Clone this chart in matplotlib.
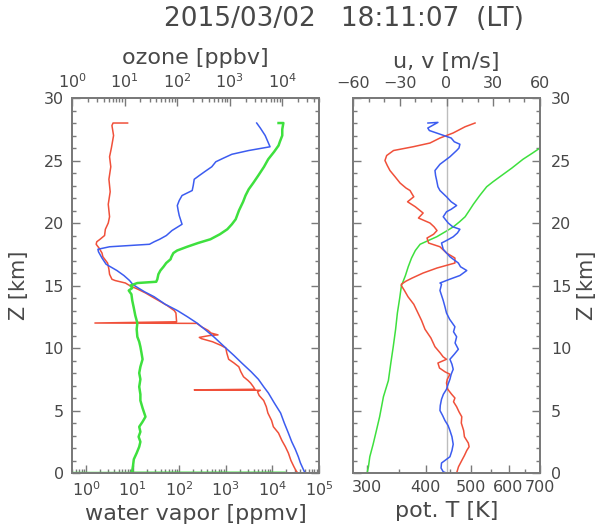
import matplotlib
matplotlib.use("Agg")
import matplotlib.pyplot as plt
import matplotlib.ticker as mticker
import numpy as np

plt.rc("font", family="DejaVu Sans", size=11.5)
TXT = "#484848"
EDGE = "#7a7a7a"

# ---- left panel: water vapor (bottom axis) and ozone (top axis) ----
wv_red_z = [28.0, 28.0, 27.8, 27.0, 26.0, 25.3, 24.5, 23.5, 22.5, 21.5, 20.5, 20.0,
            19.5, 19.0, 18.7, 18.5, 18.3, 18.0, 17.6, 17.3, 16.8, 16.3, 15.9, 15.5,
            15.4, 15.2, 15.0, 14.7, 14.4, 14.1, 13.8, 13.4, 13.0, 12.8, 12.3, 12.1,
            12.0, 11.97, 11.7, 11.4, 11.2, 11.05, 11.0, 10.85, 10.75, 10.5, 10.2, 10.0,
            9.6, 9.1, 8.8, 8.5, 8.1, 7.7, 7.4, 7.2, 6.9, 6.7, 6.65, 6.62, 6.5,
            6.2, 5.8, 5.3, 4.8, 4.2, 3.7, 3.2, 2.6, 2.1, 1.6, 1.0, 0.5, 0.2, 0.0,
            0.0, 0.0]
wv_red = [7.8, 3.8, 3.6, 3.9, 3.5, 3.2, 3.4, 3.1, 3.3, 3.0, 3.2, 3.0,
          2.6, 2.5, 2.0, 1.7, 1.65, 1.9, 2.2, 2.3, 2.9, 3.1, 3.2, 3.6,
          4.2, 7.0, 8.6, 13, 19, 26, 36, 55, 78, 85, 87, 88,
          1.55, 240, 300, 420, 480, 680, 450, 270, 300, 520, 800, 1000,
          1050, 1150, 1500, 1900, 2100, 2400, 3000, 3400, 3900, 4200, 210, 5500, 4800,
          5200, 6500, 7400, 8000, 9600, 1.05e4, 1.35e4, 1.6e4, 1.9e4, 2.2e4, 2.5e4, 2.9e4, 3.2e4, 3.5e4,
          2.4e4, 1.2e5]

wv_blue_z = [28.0, 27.6, 27.0, 26.5, 26.1, 25.8, 25.5, 25.2, 24.9, 24.5, 24.1, 23.8,
             23.5, 23.0, 22.6, 22.2, 21.8, 21.4, 21.0, 20.6, 19.9, 19.4, 19.0, 18.7,
             18.5, 18.3, 18.1, 17.9, 17.7, 17.2, 16.7, 16.2, 15.8, 15.4, 15.1, 14.9,
             14.5, 14.1, 13.5, 13.0, 12.5, 12.0, 11.4, 10.9, 10.0, 9.4, 8.8, 8.1,
             7.5, 6.9, 6.4, 5.6, 4.8, 4.0, 3.2, 2.5, 1.9, 1.3, 0.8, 0.3, 0.0]
wv_blue = [4600, 5500, 7000, 8000, 8900, 3100, 1350, 900, 610, 500, 350, 270,
           210, 200, 190, 115, 100, 91, 95, 100, 115, 70, 53, 38,
           29, 23, 3.2, 1.8, 1.85, 2.2, 2.7, 4.6, 6.5, 8.6, 10, 12,
           18, 29, 50, 91, 150, 240, 380, 550, 1000, 1500, 2200, 3500,
           5000, 6500, 8200, 1.1e4, 1.5e4, 1.8e4, 2.2e4, 2.6e4, 3.1e4, 3.6e4, 4e4, 4.6e4, 5e4]

o3_z = [0.0, 0.0, 0.0, 0.2, 0.6, 1.1, 1.6, 2.1, 2.5, 2.9, 3.3, 3.7, 4.1, 4.5,
        5.2, 5.8, 6.3, 6.9, 7.5, 8.0, 8.5, 9.1, 9.6, 10.1, 10.5, 10.9, 11.5,
        12.0, 12.6, 13.2, 13.8, 14.3, 14.6, 14.8, 15.0, 15.2, 15.3, 15.5, 15.9,
        16.2, 16.5, 16.8, 17.1, 17.3, 17.6, 17.8, 18.1, 18.4, 18.7, 19.1, 19.5,
        19.9, 20.3, 21.0, 21.7, 22.2, 22.7, 23.2, 23.8, 24.5, 25.1, 25.7, 26.2,
        26.5, 27.0, 27.5, 28.0, 28.0]
o3 = [0.5, 1.15e4, 13.5, 14, 14.5, 15, 17, 19, 20, 18.5, 20, 19, 22, 25,
      22, 20, 20, 19, 20, 19, 20, 22, 21, 20, 19, 17.5, 17,
      17.5, 16, 15, 14, 13.5, 12, 14, 13, 17.5, 40, 42, 44,
      48, 55, 62, 75, 78, 85, 100, 155, 250, 430, 650, 900,
      1100, 1300, 1500, 1800, 2000, 2300, 2800, 3500, 4500, 5400, 7000, 8500,
      9000, 1.0e4, 1.0e4, 1.05e4, 8500]

# ---- right panel: potential temperature (bottom) and winds (top) ----
th_z = [0.0, 0.5, 1.3, 2.3, 3.4, 4.5, 5.3, 6.1, 7.4, 8.8, 10.1, 11.5, 12.8, 14.0,
        15.0, 15.1, 15.8, 16.5, 17.2, 17.8, 18.3, 18.6, 18.9, 19.3, 19.7, 20.1,
        20.5, 21.0, 21.5, 22.2, 22.9, 23.3, 23.7, 24.4, 25.1, 25.6, 26.0, 26.5,
        27.2, 28.0]
theta = [300, 302, 304, 309, 314, 319, 322, 325, 333, 337, 341, 345, 348, 352,
         355, 356, 362, 367, 373, 380, 389, 405, 422, 440, 458, 472,
         485, 495, 505, 521, 539, 556, 575, 610, 644, 675, 700, 730,
         770, 810]

u_z = [28.0, 27.7, 27.2, 26.8, 26.4, 26.1, 25.8, 25.4, 25.0, 24.6, 24.2, 23.7,
       23.2, 22.8, 22.6, 22.3, 22.1, 21.7, 21.3, 20.8, 20.4, 20.0, 19.7, 19.4,
       19.1, 18.8, 18.4, 18.1, 17.6, 17.2, 16.8, 16.4, 16.0, 15.6, 15.35, 15.1,
       15.0, 14.6, 14.1, 13.5, 12.8, 12.2, 11.5, 10.8, 10.1, 9.6, 9.3, 9.1,
       8.8, 8.4, 8.1, 7.9, 7.5, 7.2, 6.7, 6.3, 6.0, 5.7, 5.3, 4.9, 4.5, 4.0,
       3.4, 2.9, 2.4, 2.1, 1.8, 1.4, 1.0, 0.5, 0.0]
u_wind = [18.3, 11.9, 4.2, -4.2, -10.6, -21.5, -34, -38.4, -39.5, -38, -36.3, -33,
          -29.8, -26, -23.4, -22, -21, -25, -20, -15, -18, -10.6, -8, -6.1,
          -8.3, -12.5, -11.5, -4.2, 0, 5.4, 5.4, -6.1, -15, -22, -26, -29,
          -29, -27, -24.7, -21, -18.3, -16, -13.8, -10, -7.4, -4, -2.2, 0,
          -5.5, -4.5, -1, 2.2, 0.5, 0, 0.8, 3.3, 5.4, 4.5, 6.5, 8, 9.8, 9.5,
          11.0, 11.5, 14.0, 14.5, 13, 11.5, 9.8, 7.7, 6.5]

v_z = [28.0, 28.05, 27.6, 27.4, 27.1, 26.8, 26.5, 26.3, 26.0, 25.8, 25.3, 24.7,
       24.2, 23.8, 23.4, 22.9, 22.6, 22.1, 21.7, 21.4, 21.1, 20.9, 20.5, 20.0,
       19.7, 19.5, 19.2, 18.9, 18.6, 18.4, 17.9, 17.3, 16.8, 16.5, 16.2, 15.8,
       15.5, 15.2, 15.1, 14.6, 13.8, 13.3, 12.8, 12.3, 11.7, 11.3, 10.9, 10.4,
       9.9, 9.5, 9.1, 8.7, 8.3, 7.9, 7.5, 7.1, 6.7, 6.3, 5.9, 5.4, 5.0, 4.6,
       4.2, 3.8, 3.4, 2.9, 2.3, 1.8, 1.3, 0.8, 0.4, 0.1, 0.0]
v_wind = [-11.9, -5.5, -12, -11, -4, 3, 5, 8.6, 8, 6.5, 2.2, -4.2,
          -7.4, -7, -6.3, -5.5, -4.2, 0, 3, 6.5, 3, 0, -2.1, 1.1,
          4, 8.6, 7, 4.3, 0, -3.2, -2.1, 2.2, 7.6, 9, 13, 8.6,
          2, -4.2, -3.2, -4.2, -2.1, -1, 0, 2, 5.4, 4.5, 6.5, 5.5,
          7.6, 5, 2.2, 3.5, 4.3, 3, 2.2, 1, 0, -2, -3.2, -4, -4.2, -2.5,
          -1, 1, 2.2, 3.5, 4.3, 3.5, 2.2, -3.2, -3.5, -2.1, 0]

RED = "#f0503a"
BLUE = "#3c5cf0"
GREEN = "#3ee03e"


def style_axis(ax, ylabels_left=True):
    for s in ax.spines.values():
        s.set_color(EDGE)
        s.set_linewidth(1.4)
    ax.tick_params(which="both", direction="in", colors=EDGE, labelcolor=TXT,
                   top=False, left=True, right=True, width=1.0)
    ax.tick_params(which="major", length=6)
    ax.tick_params(which="minor", length=3)
    ax.set_ylim(0, 30)
    ax.yaxis.set_major_locator(mticker.MultipleLocator(5))
    ax.yaxis.set_minor_locator(mticker.MultipleLocator(1))
    if ylabels_left:
        ax.tick_params(axis="y", labelleft=True, labelright=False, pad=6)
        ax.set_ylabel("Z [km]", fontsize=15, color=TXT, labelpad=10)
    else:
        ax.tick_params(axis="y", labelleft=False, labelright=True, pad=8)
        ax.yaxis.set_label_position("right")
        ax.set_ylabel("Z [km]", fontsize=15, color=TXT, labelpad=4)


def style_top(ax):
    for s in ax.spines.values():
        s.set_color(EDGE)
        s.set_linewidth(1.4)
    ax.tick_params(which="both", direction="in", colors=EDGE, labelcolor=TXT,
                   width=1.0, pad=5)
    ax.tick_params(which="major", length=6)
    ax.tick_params(which="minor", length=3)


fig = plt.figure(figsize=(6.02, 5.31), dpi=100)

# left panel
ax1 = fig.add_axes([0.1196, 0.1092, 0.4103, 0.7062])
ax1.set_xscale("log")
ax1.plot(wv_red, wv_red_z, color=RED, lw=1.1)
ax1.plot(wv_blue, wv_blue_z, color=BLUE, lw=1.1)
ax1.set_xlim(0.5, 1.0001e5)
ax1.xaxis.set_major_locator(mticker.LogLocator(base=10, numticks=10))
ax1.xaxis.set_minor_locator(mticker.LogLocator(base=10, subs=np.arange(2, 10), numticks=20))
ax1.xaxis.set_minor_formatter(mticker.NullFormatter())
style_axis(ax1, ylabels_left=True)
ax1.tick_params(axis="x", pad=5)
ax1.set_xlabel("water vapor [ppmv]", fontsize=16, color=TXT, labelpad=4)

ax1t = ax1.twiny()
ax1t.set_xscale("log")
ax1t.plot(o3, o3_z, color=GREEN, lw=1.8)
ax1t.set_xlim(1, 5e4)
ax1t.xaxis.set_major_locator(mticker.LogLocator(base=10, numticks=10))
ax1t.xaxis.set_minor_locator(mticker.LogLocator(base=10, subs=np.arange(2, 10), numticks=20))
ax1t.xaxis.set_minor_formatter(mticker.NullFormatter())
style_top(ax1t)
ax1t.set_xlabel("ozone [ppbv]", fontsize=16, color=TXT, labelpad=6)

# right panel
ax2 = fig.add_axes([0.5864, 0.1092, 0.3106, 0.7062])
ax2.set_xscale("log")
ax2.plot(theta, th_z, color=GREEN, lw=1.1)
ax2.set_xlim(280, 700)
ax2.xaxis.set_major_locator(mticker.FixedLocator([300, 400, 500, 600, 700]))
ax2.xaxis.set_major_formatter(mticker.FixedFormatter(["300", "400", "500", "600", "700"]))
ax2.xaxis.set_minor_locator(mticker.FixedLocator([350, 450, 550, 650]))
ax2.xaxis.set_minor_formatter(mticker.NullFormatter())
style_axis(ax2, ylabels_left=False)
ax2.tick_params(axis="x", pad=5)
ax2.set_xlabel("pot. T [K]", fontsize=16, color=TXT, labelpad=4)

ax2t = ax2.twiny()
ax2t.axvline(0, color="#bdbdbd", lw=1.0, zorder=0)
ax2t.plot(u_wind, u_z, color=RED, lw=1.1)
ax2t.plot(v_wind, v_z, color=BLUE, lw=1.1)
ax2t.set_xlim(-60, 60)
ax2t.xaxis.set_major_locator(mticker.MultipleLocator(30))
ax2t.xaxis.set_minor_locator(mticker.MultipleLocator(10))
style_top(ax2t)
ax2t.set_xlabel("u, v [m/s]", fontsize=16, color=TXT, labelpad=6)

fig.text(0.571, 0.964, "2015/03/02   18:11:07  (LT)", fontsize=19,
         color=TXT, ha="center", va="center")

fig.savefig("out.png", dpi=100)
